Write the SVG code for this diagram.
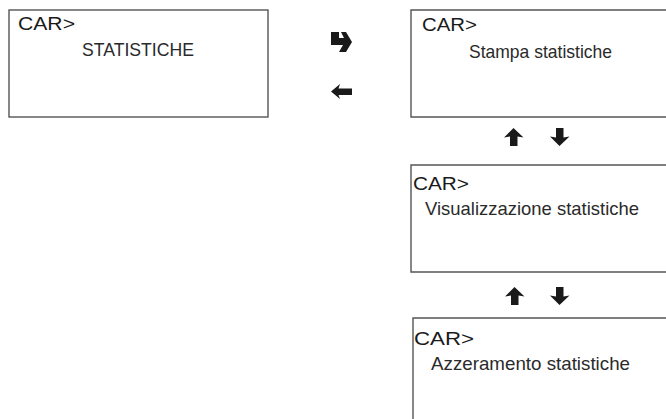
<svg xmlns="http://www.w3.org/2000/svg" width="666" height="419" viewBox="0 0 666 419">
<style>
.box{fill:none;stroke:#555;stroke-width:1.4}
.t{font-family:"Liberation Sans",Arial,sans-serif;fill:#1a1a1a}
.c{font-size:18.5px}
.s{font-size:19px;fill:#2a2a2a}
.ar{fill:#1a1a1a}
</style>
<defs>
<polygon id="up" points="9.5,0 19.5,9.5 13.5,8.5 13.5,18 6,18 6,8.5 0,9.5"/>
<polygon id="down" points="9.5,18 19.5,8.5 13.5,9.5 13.5,0 6,0 6,9.5 0,8.5"/>
</defs>
<rect width="666" height="419" fill="#fff"/>
<g id="node-statistiche">
<rect class="box" x="9" y="10" width="259" height="107"/>
<text class="t c" x="18" y="30" textLength="57" lengthAdjust="spacingAndGlyphs">CAR&gt;</text>
<text class="t s" x="82" y="56" textLength="112" lengthAdjust="spacingAndGlyphs">STATISTICHE</text>
</g>
<g id="node-stampa">
<path class="box" d="M666,10 H411 V117 H666"/>
<text class="t c" x="422" y="31" textLength="55" lengthAdjust="spacingAndGlyphs">CAR&gt;</text>
<text class="t s" x="469" y="58" textLength="143" lengthAdjust="spacingAndGlyphs">Stampa statistiche</text>
</g>
<g id="node-visualizzazione">
<path class="box" d="M666,165 H411 V272 H666"/>
<text class="t c" x="413" y="190" textLength="56" lengthAdjust="spacingAndGlyphs">CAR&gt;</text>
<text class="t s" x="425" y="215" textLength="214" lengthAdjust="spacingAndGlyphs">Visualizzazione  statistiche</text>
</g>
<g id="node-azzeramento">
<path class="box" d="M666,318 H413 V419"/>
<text class="t c" x="414" y="345" textLength="60" lengthAdjust="spacingAndGlyphs">CAR&gt;</text>
<text class="t s" x="431" y="370" textLength="199" lengthAdjust="spacingAndGlyphs">Azzeramento statistiche</text>
</g>
<g id="connectors" class="ar">
<polygon points="331,32 339,32 339,38 344,38 341,32 346,32 352,42 346,52 339,52 343,45 331,45"/>
<polygon points="331,91.5 340,84 338.5,88.5 352,88.5 352,95 338.5,95 340,99"/>
<use href="#up" x="504" y="128"/>
<use href="#down" x="550" y="128"/>
<use href="#up" x="505" y="287"/>
<use href="#down" x="550" y="287"/>
</g>
</svg>
